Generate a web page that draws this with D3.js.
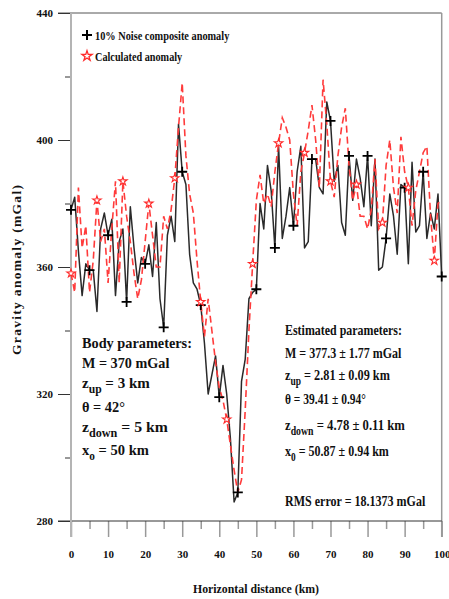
<!DOCTYPE html>
<html>
<head>
<meta charset="utf-8">
<script src="https://cdn.jsdelivr.net/npm/d3@7/dist/d3.min.js"></script>
<style>
  html, body { margin: 0; padding: 0; background: #fff; }
  svg { display: block; }
  text { font-family: "Liberation Serif", "Times New Roman", serif; font-weight: bold; fill: #111; }
</style>
</head>
<body>
<svg id="chart" width="449" height="599"></svg>
<script>
// Horizontal distance (km), one sample per km
const distanceKm = d3.range(0, 101);

// 10% noise composite anomaly (mGal)
const noisyAnomaly = [
  378, 382, 365, 351, 361, 359, 359, 346, 372, 377,
  370, 375, 351, 368, 372, 349, 379, 366, 355, 363,
  361, 367, 357, 374, 350, 341, 370, 376, 368, 405,
  390, 386, 364, 355, 353, 348, 336, 320, 326, 332,
  319, 329, 320, 306, 286, 289, 324, 331, 350, 352,
  353, 380, 372, 392, 384, 366, 398, 369, 376, 385,
  373, 390, 398, 366, 368, 394, 394, 385, 383, 412,
  406, 387, 392, 374, 370, 395, 381, 394, 388, 379,
  395, 373, 394, 359, 360, 369, 383, 376, 364, 386,
  385, 361, 393, 371, 373, 390, 369, 377, 372, 383,
  357
];

// Calculated anomaly (mGal)
const calculatedAnomaly = [
  358, 352, 385, 366, 373, 352, 362, 381, 368, 372,
  355, 372, 387, 355, 387, 376, 368, 358, 350, 356,
  368, 380, 370, 360, 360, 376, 372, 378, 388, 404,
  418, 395, 383, 377, 362, 349, 338, 350, 340, 330,
  322, 318, 312, 304, 296, 289, 293, 315, 340, 361,
  381, 389, 380, 383, 379, 390, 399, 407, 404, 400,
  383, 373, 390, 396, 403, 411, 400, 385, 419, 405,
  387, 382, 395, 404, 410, 392, 381, 386, 376, 376,
  372, 378, 394, 372, 374, 392, 400, 385, 377, 401,
  390, 385, 373, 384, 390, 396, 398, 376, 362, 380,
  381
];

// Distances that carry a symbol on each curve
const noisyMarkerKm = d3.range(0, 101, 5);
const calcMarkerKm = d3.range(0, 99, 7);

// Axis ticks
const yMajorTicks = [280, 320, 360, 400, 440];
const yMinorTicks = [300, 340, 380, 420];
const xMajorTicks = [0, 10, 20, 30, 40, 50, 60, 70, 80, 90, 100];
const xMinorTicks = [5, 15, 25, 35, 45, 55, 65, 75, 85, 95];

const legendLabels = ["10% Noise composite anomaly", "Calculated anomaly"];

const svg = d3.select("#chart");
const plotLeft = 71, plotRight = 441.7, plotTop = 13, plotBottom = 521;

const x = d3.scaleLinear().domain([0, 100]).range([plotLeft, plotRight]);
const y = d3.scaleLinear().domain([280, 440]).range([plotBottom, plotTop]);

// squeeze a text element horizontally to a given width, anchored at its start
function fitWidth(t, width, ax, ay) {
  const w = t.node().getBBox().width;
  const s = width / w;
  t.attr("transform", `translate(${ax},${ay}) scale(${s},1) translate(${-ax},${-ay})`);
}

// ---- frame ----
svg.append("line").attr("x1", plotLeft - 13).attr("x2", plotRight).attr("y1", plotTop).attr("y2", plotTop)
  .attr("stroke", "#555").attr("stroke-width", 1);
svg.append("line").attr("x1", plotRight).attr("x2", plotRight).attr("y1", plotTop).attr("y2", plotBottom + 16)
  .attr("stroke", "#999").attr("stroke-width", 1.5);

// ---- y axis ----
const gy = svg.append("g").attr("transform", `translate(${plotLeft},0)`)
  .call(d3.axisLeft(y).tickValues(yMajorTicks).tickSize(13).tickPadding(5).tickFormat(d3.format("d")));
gy.select(".domain").remove();
gy.selectAll(".tick line").attr("stroke", "#333").attr("stroke-width", 1);
gy.selectAll(".tick text").attr("font-size", 11).attr("fill", "#111")
  .style("font-family", '"Liberation Serif", serif').style("font-weight", "bold");

const gyMinor = svg.append("g").attr("transform", `translate(${plotLeft},0)`)
  .call(d3.axisLeft(y).tickValues(yMinorTicks).tickSize(6).tickFormat(""));
gyMinor.select(".domain").remove();
gyMinor.selectAll(".tick line").attr("stroke", "#333").attr("stroke-width", 1);

// ---- x axis ----
const gx = svg.append("g").attr("transform", `translate(0,${plotBottom})`)
  .call(d3.axisBottom(x).tickValues(xMajorTicks).tickSize(16).tickPadding(13).tickFormat(d3.format("d")));
gx.select(".domain").remove();
gx.selectAll(".tick line").attr("stroke", "#999").attr("stroke-width", 1.5);
gx.selectAll(".tick text").attr("font-size", 11).attr("fill", "#111")
  .style("font-family", '"Liberation Serif", serif').style("font-weight", "bold");

const gxMinor = svg.append("g").attr("transform", `translate(0,${plotBottom})`)
  .call(d3.axisBottom(x).tickValues(xMinorTicks).tickSize(8).tickFormat(""));
gxMinor.select(".domain").remove();
gxMinor.selectAll(".tick line").attr("stroke", "#999").attr("stroke-width", 1.5);

// axis base lines
svg.append("line").attr("x1", plotLeft - 13).attr("x2", plotRight).attr("y1", plotBottom).attr("y2", plotBottom)
  .attr("stroke", "#333").attr("stroke-width", 1);
svg.append("line").attr("x1", plotLeft).attr("x2", plotLeft).attr("y1", plotTop).attr("y2", plotBottom + 16)
  .attr("stroke", "#b4b4b4").attr("stroke-width", 2);

// ---- axis titles ----
svg.append("text").attr("x", 256).attr("y", 593).attr("text-anchor", "middle")
  .attr("font-size", 13.5).attr("textLength", 126).attr("lengthAdjust", "spacingAndGlyphs")
  .text("Horizontal distance (km)");
svg.append("text").attr("transform", "translate(21,270) rotate(-90)").attr("text-anchor", "middle")
  .attr("font-size", 13.5).attr("textLength", 170).attr("lengthAdjust", "spacing")
  .text("Gravity anomaly (mGal)");

// ---- curves ----
const anomalyLine = d3.line().x((d, i) => x(distanceKm[i])).y(d => y(d));
svg.append("path").datum(noisyAnomaly).attr("d", anomalyLine)
  .attr("fill", "none").attr("stroke", "#2a2a2a").attr("stroke-width", 1.5)
  .attr("stroke-linejoin", "round");

svg.append("path").datum(calculatedAnomaly).attr("d", anomalyLine)
  .attr("fill", "none").attr("stroke", "#ff3b3b").attr("stroke-width", 1.6)
  .attr("stroke-dasharray", "7,4");

const plusPath = "M-5,0H5M0,-5V5";
const star = d3.symbol().type(d3.symbolStar).size(22);

svg.append("g").selectAll("path").data(noisyMarkerKm).join("path")
  .attr("transform", d => `translate(${x(d)},${y(noisyAnomaly[d])})`)
  .attr("d", plusPath).attr("stroke", "#000").attr("stroke-width", 1.8).attr("fill", "none");

svg.append("g").selectAll("path").data(calcMarkerKm).join("path")
  .attr("transform", d => `translate(${x(d)},${y(calculatedAnomaly[d])})`)
  .attr("d", star).attr("stroke", "#ff2a2a").attr("stroke-width", 1.1).attr("fill", "#fff");

// ---- legend ----
svg.append("path").attr("transform", "translate(87,35)").attr("d", plusPath)
  .attr("stroke", "#000").attr("stroke-width", 2);
svg.append("path").attr("transform", "translate(87,56)").attr("d", d3.symbol().type(d3.symbolStar).size(32)())
  .attr("stroke", "#ff2a2a").attr("stroke-width", 1.3).attr("fill", "#fff");
const lg1 = svg.append("text").attr("x", 95).attr("y", 40).attr("font-size", 12.5).text(legendLabels[0]);
fitWidth(lg1, 135, 95, 40);
const lg2 = svg.append("text").attr("x", 95).attr("y", 61).attr("font-size", 12.5).text(legendLabels[1]);
fitWidth(lg2, 88, 95, 61);

// ---- parameter blocks ----
function paramLine(px, py, parts, width) {
  const t = svg.append("text").attr("x", px).attr("y", py).attr("font-size", 15.5);
  parts.forEach(p => {
    if (p.sub) {
      t.append("tspan").attr("dy", 5).attr("font-size", 12).text(p.sub);
    } else {
      t.append("tspan").attr("dy", p.after ? -5 : 0).text(p.t);
    }
  });
  fitWidth(t, width, px, py);
}

const bodyLines = [
  { y: 348, w: 110, parts: [{ t: "Body parameters:" }] },
  { y: 368, w: 88, parts: [{ t: "M = 370 mGal" }] },
  { y: 388, w: 68, parts: [{ t: "z" }, { sub: "up" }, { t: " = 3 km", after: true }] },
  { y: 412, w: 43, parts: [{ t: "θ = 42°" }] },
  { y: 432, w: 86, parts: [{ t: "z" }, { sub: "down" }, { t: " = 5 km", after: true }] },
  { y: 455, w: 67, parts: [{ t: "x" }, { sub: "o" }, { t: " = 50 km", after: true }] }
];
bodyLines.forEach(l => paramLine(82, l.y, l.parts, l.w));

const estLines = [
  { y: 335, w: 117, parts: [{ t: "Estimated parameters:" }] },
  { y: 358, w: 117, parts: [{ t: "M = 377.3 ± 1.77 mGal" }] },
  { y: 380, w: 105, parts: [{ t: "z" }, { sub: "up" }, { t: " = 2.81 ± 0.09 km", after: true }] },
  { y: 404, w: 81, parts: [{ t: "θ = 39.41 ± 0.94°" }] },
  { y: 430, w: 120, parts: [{ t: "z" }, { sub: "down" }, { t: " = 4.78 ± 0.11 km", after: true }] },
  { y: 456, w: 104, parts: [{ t: "x" }, { sub: "0" }, { t: " = 50.87 ± 0.94 km", after: true }] },
  { y: 506, w: 141, parts: [{ t: "RMS error = 18.1373 mGal" }] }
];
estLines.forEach(l => paramLine(285, l.y, l.parts, l.w));
</script>
</body>
</html>
